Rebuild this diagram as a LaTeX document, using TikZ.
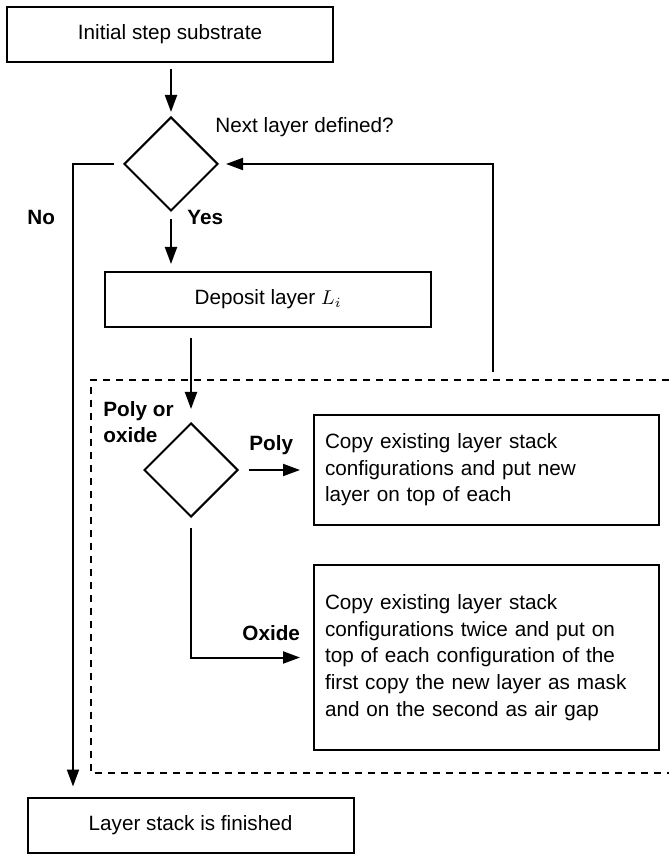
\documentclass[tikz,border=0pt]{standalone}
\usepackage{fontspec}
\setmainfont{Liberation Sans}
\usetikzlibrary{shapes.geometric,arrows.meta,positioning}

\begin{document}
\begin{tikzpicture}[
  x=0.5pt, y=-0.5pt,
  block/.style={rectangle, draw, line width=1pt, minimum width=163pt, minimum height=27.5pt, inner sep=0pt},
  textblock/.style={rectangle, draw, line width=1pt, text width=161.5pt, inner xsep=5.5pt, inner ysep=0pt, align=left},
  decision/.style={diamond, draw, line width=1pt, aspect=1, minimum width=47pt, minimum height=47pt, inner sep=0pt},
  tag/.style={font=\fontsize{10.35}{13.3}\selectfont\bfseries, inner sep=0pt},
  flow/.style={-{Triangle[length=8.5pt,width=6pt]}, line width=1pt},
  font=\fontsize{10.35}{13.3}\selectfont
]
\useasboundingbox (0,0) rectangle (669,854);

\node[block] (init) at (170,34.5) {Initial step substrate};
\node[decision] (dec1) at (171,164) {};
\node[block] (deposit) at (268,299.5) {Deposit layer $L_i$};
\node[decision] (dec2) at (191,470) {};
\node[textblock, minimum height=55pt, right=37pt of dec2] (polybox) {Copy existing layer stack\\configurations and put new\\layer on top of each};
\node[textblock, minimum height=92.5pt, below=19pt of polybox] (oxidebox) {Copy existing layer stack\\configurations twice and put on\\top of each configuration of the\\first copy the new layer as mask\\and on the second as air gap};
\node[block] (finish) at (190.5,825) {Layer stack is finished};

\node[anchor=base west, inner sep=0pt] (ask1) at (215,133) {Next layer defined?};
\node[tag, anchor=base west] (no) at (27,225) {No};
\node[tag, anchor=base west] (yes) at (187,225) {Yes};
\node[tag, anchor=north west, align=left] (ask2) at (103,401) {Poly or\\oxide};
\node[tag, anchor=base west] (poly) at (249,450) {Poly};
\node[tag, anchor=base west] (oxide) at (242,640) {Oxide};

\coordinate (nobend) at (73,164);
\coordinate (back) at (493,372);

% main flow
\draw[flow, shorten <=3pt, shorten >=2pt] (dec1.north |- init.south) -- (dec1.north);
\draw[flow, shorten <=3.5pt, shorten >=3.5pt] (dec1.south) -- (dec1.south |- deposit.north);
\draw[flow, shorten <=5pt, shorten >=6.5pt] (dec2.north |- deposit.south) -- (dec2.north);
\draw[flow, shorten <=5pt, shorten >=6.5pt] (dec2.east) -- (polybox.west);
\draw[flow, shorten <=5pt, shorten >=6.5pt] (dec2.south) |- (oxidebox.west);
\draw[flow, shorten <=4.5pt, shorten >=5pt] (dec1.west) -- (nobend) -- (nobend |- finish.north);
\draw[flow, shorten >=3.5pt] (back) |- (dec1.east);

% layer loop frame
\draw[line width=1pt, dash pattern=on 3.5pt off 3pt] (669,380) -- (91,380) -- (91,773) -- (669,773);
\end{tikzpicture}
\end{document}
